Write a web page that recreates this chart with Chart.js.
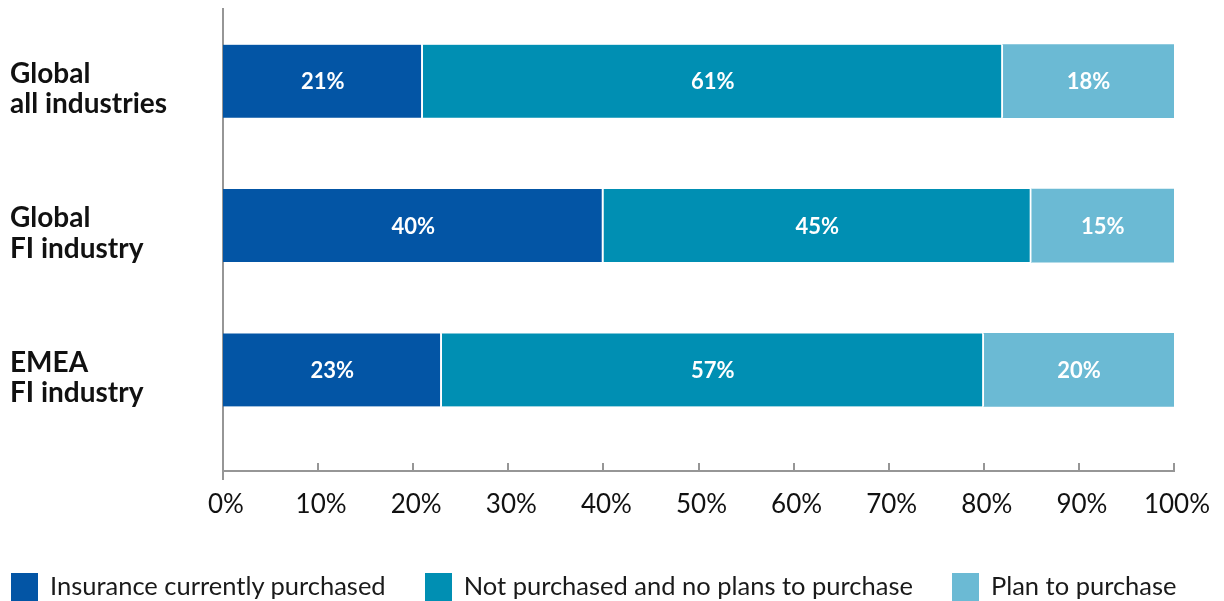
<!DOCTYPE html>
<html>
<head>
<meta charset="utf-8">
<script src="https://cdn.jsdelivr.net/npm/chart.js@4/dist/chart.umd.min.js"></script>
<style>
  body { margin: 0; background: #fff; }
  #wrap { position: relative; width: 1224px; height: 601px; overflow: hidden; }
  #legend { position: absolute; left: 11px; top: 573px; display: flex; gap: 39px; }
  #legend .item { display: flex; align-items: center; font-family: Lato, sans-serif; font-size: 25.5px; line-height: 28px; color: #1a1a1a; }
  #legend .item span:last-child { position: relative; top: -2px; }
  #legend .box { width: 27px; height: 28px; margin-right: 12px; }
</style>
</head>
<body>
<div id="wrap">
  <canvas id="myChart"></canvas>
  <div id="legend"></div>
</div>
<script>
// categorias (eixo y)
const categories = [["Global", "all industries"], ["Global", "FI industry"], ["EMEA", "FI industry"]];
const seriesNames = ["Insurance currently purchased", "Not purchased and no plans to purchase", "Plan to purchase"];
const seriesColors = ["#0355A5", "#008FB3", "#6BBAD4"];

// valores (%)
const purchased = [21, 40, 23];
const noPlans = [61, 45, 57];
const planTo = [18, 15, 20];

const xTickStep = 10;

const axisColor = "#969696";

// desenha os rótulos de valor dentro das barras
const valueLabels = {
    id: "valueLabels",
    afterDatasetsDraw(chart) {
        const ctx = chart.ctx;
        ctx.save();
        ctx.fillStyle = "#fff";
        ctx.font = "bold 22px Lato";
        ctx.textAlign = "center";
        ctx.textBaseline = "middle";
        chart.data.datasets.forEach((ds, i) => {
            chart.getDatasetMeta(i).data.forEach((el, j) => {
                const p = el.getCenterPoint();
                ctx.fillText(ds.data[j].x + "%", p.x, p.y + 1);
            });
        });
        ctx.restore();
    }
};

// marcas do eixo x para cima e prolongamento do eixo y
const axisMarks = {
    id: "axisMarks",
    afterDraw(chart) {
        const ctx = chart.ctx;
        const xs = chart.scales.x;
        const bottom = chart.chartArea.bottom;
        ctx.save();
        ctx.strokeStyle = axisColor;
        ctx.lineWidth = 2;
        ctx.beginPath();
        xs.ticks.forEach(t => {
            const px = Math.round(xs.getPixelForValue(t.value));
            if (t.value === 0) {
                ctx.moveTo(px, bottom);
                ctx.lineTo(px, bottom + 9);
            } else {
                ctx.moveTo(px, bottom - 8);
                ctx.lineTo(px, bottom);
            }
        });
        ctx.stroke();
        ctx.restore();
    }
};

// legenda em HTML
const htmlLegend = {
    id: "htmlLegend",
    afterUpdate(chart) {
        const el = document.getElementById("legend");
        el.innerHTML = "";
        chart.data.datasets.forEach(ds => {
            const item = document.createElement("div");
            item.className = "item";
            const box = document.createElement("span");
            box.className = "box";
            box.style.background = ds.backgroundColor;
            const txt = document.createElement("span");
            txt.textContent = ds.label;
            item.appendChild(box);
            item.appendChild(txt);
            el.appendChild(item);
        });
    }
};

const toPoints = arr => arr.map((v, i) => ({ x: v, y: i }));
const allSeries = [purchased, noPlans, planTo];

const ctx = document.getElementById("myChart").getContext("2d");
new Chart(ctx, {
    type: "bar",
    data: {
        datasets: allSeries.map((s, i) => ({
            label: seriesNames[i],
            data: toPoints(s),
            backgroundColor: seriesColors[i],
            borderColor: "#fff",
            borderWidth: { top: 0, bottom: 0, left: 0, right: i < allSeries.length - 1 ? 2 : 0 },
            borderSkipped: false,
            barThickness: 73
        }))
    },
    options: {
        indexAxis: "y",
        responsive: true,
        maintainAspectRatio: false,
        animation: false,
        layout: { padding: { left: 10, top: 9, right: 50, bottom: 70 } },
        plugins: {
            legend: { display: false },
            tooltip: { enabled: false }
        },
        scales: {
            x: {
                type: "linear",
                stacked: true,
                min: 0,
                max: 100,
                grid: { display: false },
                border: { display: true, color: axisColor, width: 2 },
                ticks: {
                    stepSize: xTickStep,
                    padding: 10,
                    labelOffset: 3,
                    color: "#111",
                    font: { family: "Lato", size: 26 },
                    callback: v => v + "%"
                },
                afterFit: s => { s.height = 60; }
            },
            y: {
                type: "linear",
                stacked: true,
                reverse: true,
                offset: false,
                min: -0.5,
                max: 2.7,
                grid: { display: false },
                border: { display: true, color: axisColor, width: 2 },
                afterBuildTicks: s => { s.ticks = categories.map((c, i) => ({ value: i })); },
                ticks: {
                    autoSkip: false,
                    crossAlign: "far",
                    labelOffset: 8,
                    color: "#111",
                    font: { family: "Lato", size: 28, weight: "bold", lineHeight: 1.08 },
                    callback: v => categories[v]
                },
                afterFit: s => { s.width = 213; s.paddingTop = 0; s.paddingBottom = 0; }
            }
        }
    },
    plugins: [valueLabels, axisMarks, htmlLegend]
});
</script>
</body>
</html>
